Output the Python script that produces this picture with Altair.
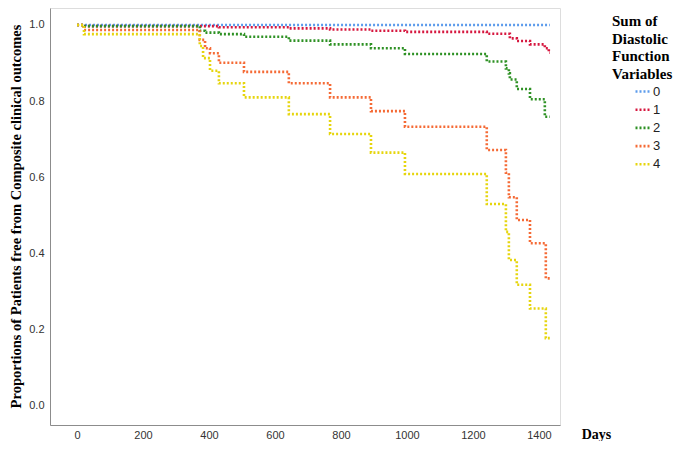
import altair as alt
import pandas as pd

groups = ["0", "1", "2", "3", "4"]
colors = ["#5d9cec", "#d6173f", "#2e9124", "#f56a35", "#e6d50e"]

days_0 = [0, 1433]
surv_0 = [1.0, 1.0]

days_1 = [0, 21, 430, 642, 767, 891, 994, 1242, 1312, 1333, 1373, 1418, 1430, 1433]
surv_1 = [1.0, 0.997, 0.994, 0.991, 0.988, 0.985, 0.982, 0.977, 0.965, 0.958, 0.949, 0.939, 0.927, 0.927]

days_2 = [0, 21, 372, 388, 430, 506, 642, 767, 891, 994, 1242, 1300, 1309, 1312, 1333, 1373, 1418, 1433]
surv_2 = [1.0, 0.997, 0.985, 0.980, 0.976, 0.969, 0.959, 0.949, 0.939, 0.924, 0.904, 0.886, 0.873, 0.857, 0.832, 0.805, 0.759, 0.759]

days_3 = [0, 21, 372, 388, 403, 430, 506, 642, 767, 891, 994, 1242, 1300, 1309, 1333, 1373, 1421, 1433]
surv_3 = [1.0, 0.987, 0.961, 0.939, 0.926, 0.901, 0.877, 0.847, 0.810, 0.774, 0.733, 0.672, 0.612, 0.548, 0.488, 0.427, 0.335, 0.335]

days_4 = [0, 21, 372, 382, 403, 430, 506, 642, 767, 891, 994, 1242, 1300, 1309, 1333, 1373, 1421, 1433]
surv_4 = [1.0, 0.976, 0.945, 0.913, 0.880, 0.847, 0.810, 0.766, 0.714, 0.665, 0.609, 0.530, 0.457, 0.383, 0.318, 0.256, 0.178, 0.178]

x_ticks = [0, 200, 400, 600, 800, 1000, 1200, 1400]
y_ticks = [0.0, 0.2, 0.4, 0.6, 0.8, 1.0]

rows = []
for g, ds, ss in zip(groups, [days_0, days_1, days_2, days_3, days_4],
                     [surv_0, surv_1, surv_2, surv_3, surv_4]):
    for i, (d, s) in enumerate(zip(ds, ss)):
        rows.append({"group": g, "day": d, "surv": s, "order": i})
df = pd.DataFrame(rows)

chart = alt.Chart(df).mark_line(
    interpolate="step-after", strokeDash=[2, 2], strokeWidth=2.6, strokeCap="butt"
).encode(
    x=alt.X("day:Q",
            scale=alt.Scale(domain=[-82, 1464], nice=False, zero=False),
            axis=alt.Axis(values=x_ticks, format="d", title="Days", grid=False,
                          ticks=False, labelPadding=4, labelFontSize=11,
                          labelFont="Liberation Sans", labelColor="#333333",
                          domainColor="#8c8c8c", domainWidth=1,
                          titleFont="Liberation Serif", titleFontSize=14,
                          titleFontWeight="bold", titleColor="#000000",
                          titleX=546, titleY=9, titleBaseline="middle",
                          titleAlign="center", titleAnchor="start")),
    y=alt.Y("surv:Q",
            scale=alt.Scale(domain=[-0.05, 1.0446], nice=False, zero=False),
            axis=alt.Axis(values=y_ticks, format=".1f",
                          title="Proportions of Patients free from Composite clinical outcomes",
                          grid=False, ticks=False, labelPadding=6, labelFontSize=11,
                          labelFont="Liberation Sans", labelColor="#333333",
                          domainColor="#8c8c8c", domainWidth=1,
                          titleFont="Liberation Serif", titleFontSize=14.5,
                          titleFontWeight="bold", titleColor="#000000",
                          titleX=-34, titleY=208, titleAngle=270,
                          titleBaseline="middle", titleAlign="center",
                          titleAnchor="start")),
    color=alt.Color("group:N",
                    scale=alt.Scale(domain=groups, range=colors),
                    legend=alt.Legend(
                        title=["Sum of", "Diastolic", "Function", "Variables"],
                        titleFont="Liberation Serif", titleFontSize=15,
                        titleFontWeight="bold", titleColor="#000000",
                        titleLineHeight=17.5, titlePadding=3,
                        orient="none", legendX=562, legendY=6,
                        symbolType="stroke", symbolDash=[2, 2],
                        symbolStrokeWidth=2.6, symbolSize=256,
                        symbolOffset=22,
                        labelFont="Liberation Sans", labelFontSize=13,
                        labelColor="#222222", labelOffset=0,
                        clipHeight=14, rowPadding=4.2)),
    order="order:Q",
).properties(
    width=510, height=417,
    autosize=alt.AutoSizeParams(type="none"),
    padding={"left": 42, "top": 0, "right": 117, "bottom": 16},
).configure_view(stroke=None).configure(background="white")

chart.save("out.html", embed_options={"renderer": "svg", "actions": False})
